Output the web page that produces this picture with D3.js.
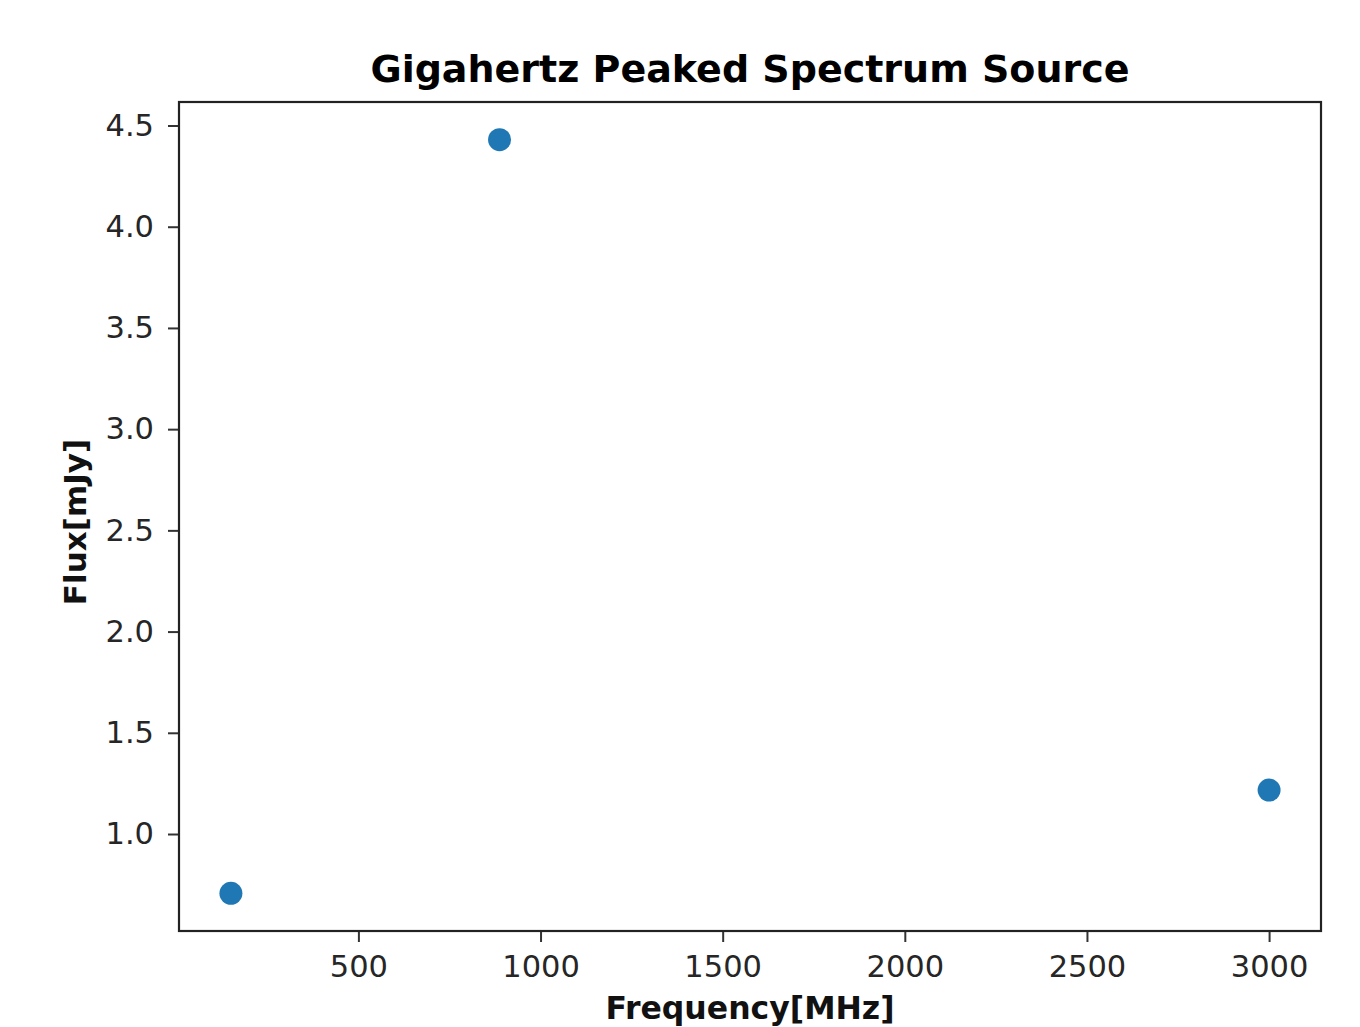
<!DOCTYPE html>
<html><head><meta charset="utf-8">
<script src="https://cdn.jsdelivr.net/npm/d3@7"></script>
<style>body{margin:0;background:#fff}</style></head>
<body><script>
const frequencies = [150, 887.5, 3000];
const fluxes = [0.707, 4.43, 1.217];
const xTicks = [500, 1000, 1500, 2000, 2500, 3000];
const yTicks = [1.0, 1.5, 2.0, 2.5, 3.0, 3.5, 4.0, 4.5];
const title = "Gigahertz Peaked Spectrum Source";
const xLabel = "Frequency[MHz]";
const yLabel = "Flux[mJy]";

const W = 1360, H = 1027;
const m = {left: 179, right: 1321, top: 102, bottom: 931};
const svg = d3.select("body").append("svg").attr("width", W).attr("height", H);
const font = "DejaVu Sans";

function pad(ext){ const s = ext[1]-ext[0]; return [ext[0]-0.05*s, ext[1]+0.05*s]; }
const x = d3.scaleLinear().domain(pad(d3.extent(frequencies))).range([m.left, m.right]);
const y = d3.scaleLinear().domain(pad(d3.extent(fluxes))).range([m.bottom, m.top]);

const xAxis = svg.append("g").attr("transform", `translate(0,${m.bottom})`)
  .call(d3.axisBottom(x).tickValues(xTicks).tickFormat(d3.format("d")).tickSize(11).tickPadding(13));
const yAxis = svg.append("g").attr("transform", `translate(${m.left},0)`)
  .call(d3.axisLeft(y).tickValues(yTicks).tickFormat(d3.format(".1f")).tickSize(11).tickPadding(14));
[xAxis, yAxis].forEach(g => {
  g.select(".domain").remove();
  g.selectAll(".tick line").attr("stroke", "#333").attr("stroke-width", 2);
  g.selectAll(".tick text").attr("font-family", font).attr("font-size", 30.5).attr("fill", "#262626");
});

svg.append("rect").attr("x", m.left).attr("y", m.top)
  .attr("width", m.right - m.left).attr("height", m.bottom - m.top)
  .attr("fill", "none").attr("stroke", "#222").attr("stroke-width", 2.2);

svg.append("g").selectAll("circle").data(frequencies).join("circle")
  .attr("cx", d => x(d)).attr("cy", (d, i) => y(fluxes[i])).attr("r", 11.5)
  .attr("fill", "#1f77b4");

svg.append("text").attr("x", (m.left + m.right)/2).attr("y", 82)
  .attr("text-anchor", "middle").attr("font-family", font).attr("font-weight", "bold")
  .attr("font-size", 38).attr("fill", "#000").text(title);
svg.append("text").attr("x", (m.left + m.right)/2).attr("y", 1019)
  .attr("text-anchor", "middle").attr("font-family", font).attr("font-weight", "bold")
  .attr("font-size", 31.5).attr("fill", "#111").text(xLabel);
svg.append("text").attr("transform", `translate(86,${522}) rotate(-90)`)
  .attr("text-anchor", "middle").attr("font-family", font).attr("font-weight", "bold")
  .attr("font-size", 31).attr("fill", "#111").text(yLabel);
</script></body></html>
